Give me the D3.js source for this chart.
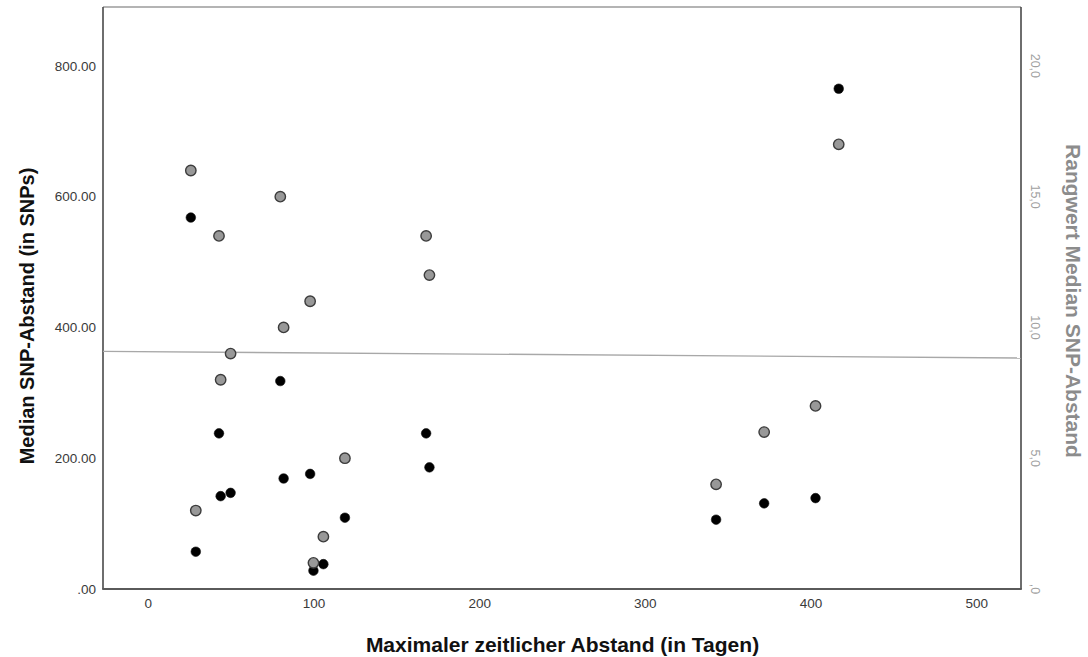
<!DOCTYPE html>
<html>
<head>
<meta charset="utf-8">
<script src="https://cdn.jsdelivr.net/npm/d3@7"></script>
<style>
  html, body { margin: 0; padding: 0; background: #fff; }
  svg { display: block; font-family: "Liberation Sans", Arial, sans-serif; }
</style>
</head>
<body>
<svg id="chart" width="1088" height="657"></svg>
<script>
// Maximum time span (days) per cluster
const days = [26, 29, 43, 44, 50, 80, 82, 98, 100, 106, 119, 168, 170, 343, 372, 403, 417];
// Median SNP distance (in SNPs) per cluster
const medianSnp = [568, 57, 238, 142, 147, 318, 169, 176, 28, 38, 109, 238, 186, 106, 131, 139, 765];
// Rank of the median SNP distance (ties averaged)
const rankSnp = [16, 3, 13.5, 8, 9, 15, 10, 11, 1, 2, 5, 13.5, 12, 4, 6, 7, 17];

const xTicks = [0, 100, 200, 300, 400, 500];
const yTicks = [0, 200, 400, 600, 800];
const rTicks = [0, 5, 10, 15, 20];

const W = 1088, H = 657;
const margin = { top: 7, right: 67, bottom: 68, left: 103 };
const svg = d3.select("#chart");

const x = d3.scaleLinear().domain([-27, 527]).range([margin.left, W - margin.right]);
const y = d3.scaleLinear().domain([0, 890]).range([H - margin.bottom, margin.top]);
const yR = d3.scaleLinear().domain([0, 890 / 40]).range([H - margin.bottom, margin.top]);

const fmtLeft = v => v === 0 ? ".00" : d3.format(".2f")(v);
const fmtRight = v => v === 0 ? ",0" : d3.format(".1f")(v).replace(".", ",");

// Left axis labels
const gL = svg.append("g").attr("transform", `translate(${margin.left},0)`)
  .call(d3.axisLeft(y).tickValues(yTicks).tickFormat(fmtLeft).tickSize(0).tickPadding(7));
gL.select(".domain").remove();
gL.selectAll("text").attr("font-size", 13.5).attr("fill", "#3a3a3a")
  .attr("font-family", "Liberation Sans, Arial, sans-serif");

// Bottom axis labels
const gB = svg.append("g").attr("transform", `translate(0,${H - margin.bottom})`)
  .call(d3.axisBottom(x).tickValues(xTicks).tickFormat(d3.format("d")).tickSize(0).tickPadding(9));
gB.select(".domain").remove();
gB.selectAll("text").attr("font-size", 13.5).attr("fill", "#3a3a3a")
  .attr("font-family", "Liberation Sans, Arial, sans-serif");

// Right axis labels, rotated
svg.append("g").selectAll("text").data(rTicks).join("text")
  .attr("transform", d => `translate(${W - margin.right + 10},${yR(d)}) rotate(90)`)
  .attr("text-anchor", "middle")
  .attr("font-size", 12.5)
  .attr("fill", "#a0a0a0")
  .text(fmtRight);

// Plot frame
const x0 = margin.left, x1 = W - margin.right, y0 = margin.top, y1 = H - margin.bottom;
svg.append("line").attr("x1", x0).attr("x2", x1).attr("y1", y0).attr("y2", y0)
  .attr("stroke", "#6a6a6a").attr("stroke-width", 1.2);
svg.append("line").attr("x1", x0).attr("x2", x0).attr("y1", y0).attr("y2", y1)
  .attr("stroke", "#4a4a4a").attr("stroke-width", 1.6);
svg.append("line").attr("x1", x1).attr("x2", x1).attr("y1", y0).attr("y2", y1)
  .attr("stroke", "#4a4a4a").attr("stroke-width", 1.6);
svg.append("line").attr("x1", x0 - 0.8).attr("x2", x1 + 0.8).attr("y1", y1).attr("y2", y1)
  .attr("stroke", "#5a5a5a").attr("stroke-width", 2.2);

// Least-squares fit of rank on days
const mx = d3.mean(days), mr = d3.mean(rankSnp);
const sxy = d3.sum(days, (d, i) => (d - mx) * (rankSnp[i] - mr));
const sxx = d3.sum(days, d => (d - mx) * (d - mx));
const slope = sxy / sxx, intercept = mr - slope * mx;
const [dx0, dx1] = x.domain();
svg.append("line")
  .attr("x1", x(dx0)).attr("y1", yR(intercept + slope * dx0))
  .attr("x2", x(dx1)).attr("y2", yR(intercept + slope * dx1))
  .attr("stroke", "#a8a8a8").attr("stroke-width", 1.4);

const pts = days.map((d, i) => ({ d, v: medianSnp[i], r: rankSnp[i] }));

// Median SNP distance (black)
svg.append("g").selectAll("circle").data(pts).join("circle")
  .attr("cx", p => x(p.d)).attr("cy", p => y(p.v)).attr("r", 4.8)
  .attr("fill", "#000").attr("stroke", "#111").attr("stroke-width", 0.6);

// Rank (grey)
svg.append("g").selectAll("circle").data(pts).join("circle")
  .attr("cx", p => x(p.d)).attr("cy", p => yR(p.r)).attr("r", 5.2)
  .attr("fill", "#989898").attr("stroke", "#3c3c3c").attr("stroke-width", 1.4);

// Axis titles
svg.append("text")
  .attr("x", (x0 + x1) / 2 + 0.5).attr("y", 652)
  .attr("text-anchor", "middle").attr("font-size", 21).attr("font-weight", "bold")
  .attr("fill", "#111").text("Maximaler zeitlicher Abstand (in Tagen)");

svg.append("text")
  .attr("transform", `translate(34,316) rotate(-90)`)
  .attr("text-anchor", "middle").attr("font-size", 20).attr("font-weight", "bold")
  .attr("fill", "#111").text("Median SNP-Abstand (in SNPs)");

svg.append("text")
  .attr("transform", `translate(1066,301) rotate(90)`)
  .attr("text-anchor", "middle").attr("font-size", 21).attr("font-weight", "bold")
  .attr("fill", "#8c8c8c").text("Rangwert Median SNP-Abstand");
</script>
</body>
</html>
